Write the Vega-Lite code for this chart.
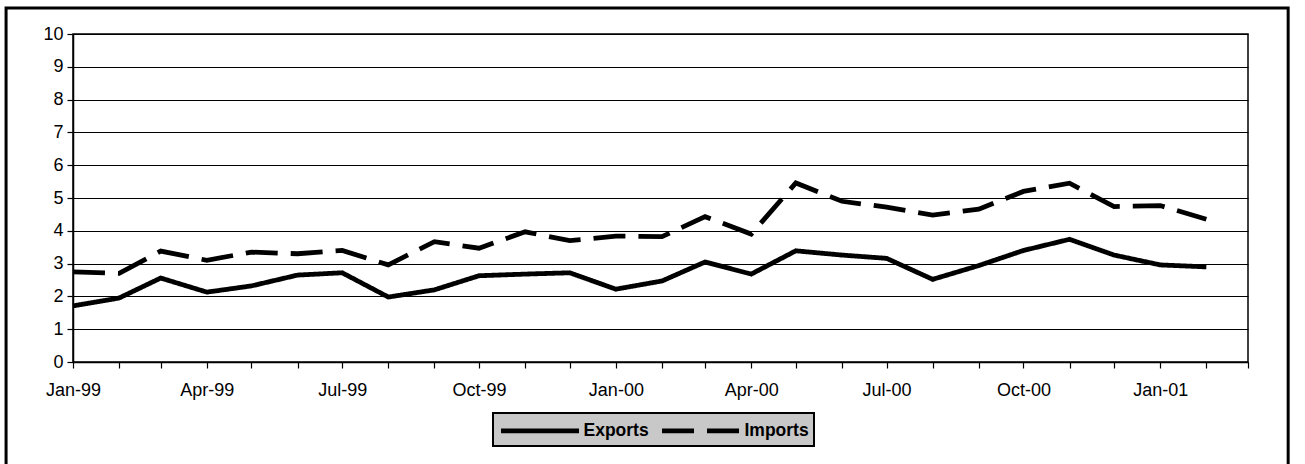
{
  "$schema": "https://vega.github.io/schema/vega-lite/v6.json",
  "width": 1175,
  "height": 328,
  "autosize": {"type": "none"},
  "padding": {"left": 73, "top": 34, "right": 57, "bottom": 102},
  "background": "white",
  "config": {
    "font": "Liberation Sans",
    "view": {"stroke": "black", "strokeWidth": 1.5},
    "axis": {"labelColor": "black", "labelFontSize": 18, "domainColor": "black", "tickColor": "black", "domainWidth": 1.5, "tickWidth": 1.2}
  },
  "resolve": {"axis": {"x": "independent", "y": "independent"}},
  "layer": [
    {
      "data": {"values": [
        {"date": "1999-01-01", "series": "Exports", "value": 1.71},
        {"date": "1999-02-01", "series": "Exports", "value": 1.95},
        {"date": "1999-03-01", "series": "Exports", "value": 2.56},
        {"date": "1999-04-01", "series": "Exports", "value": 2.13},
        {"date": "1999-05-01", "series": "Exports", "value": 2.32},
        {"date": "1999-06-01", "series": "Exports", "value": 2.65},
        {"date": "1999-07-01", "series": "Exports", "value": 2.72},
        {"date": "1999-08-01", "series": "Exports", "value": 1.98},
        {"date": "1999-09-01", "series": "Exports", "value": 2.2},
        {"date": "1999-10-01", "series": "Exports", "value": 2.63},
        {"date": "1999-11-01", "series": "Exports", "value": 2.68},
        {"date": "1999-12-01", "series": "Exports", "value": 2.72},
        {"date": "2000-01-01", "series": "Exports", "value": 2.22},
        {"date": "2000-02-01", "series": "Exports", "value": 2.47},
        {"date": "2000-03-01", "series": "Exports", "value": 3.05},
        {"date": "2000-04-01", "series": "Exports", "value": 2.68},
        {"date": "2000-05-01", "series": "Exports", "value": 3.39},
        {"date": "2000-06-01", "series": "Exports", "value": 3.26},
        {"date": "2000-07-01", "series": "Exports", "value": 3.16},
        {"date": "2000-08-01", "series": "Exports", "value": 2.52},
        {"date": "2000-09-01", "series": "Exports", "value": 2.94},
        {"date": "2000-10-01", "series": "Exports", "value": 3.4},
        {"date": "2000-11-01", "series": "Exports", "value": 3.74},
        {"date": "2000-12-01", "series": "Exports", "value": 3.26},
        {"date": "2001-01-01", "series": "Exports", "value": 2.96},
        {"date": "2001-02-01", "series": "Exports", "value": 2.9},
        {"date": "1999-01-01", "series": "Imports", "value": 2.75},
        {"date": "1999-02-01", "series": "Imports", "value": 2.7},
        {"date": "1999-03-01", "series": "Imports", "value": 3.38},
        {"date": "1999-04-01", "series": "Imports", "value": 3.1},
        {"date": "1999-05-01", "series": "Imports", "value": 3.35},
        {"date": "1999-06-01", "series": "Imports", "value": 3.3},
        {"date": "1999-07-01", "series": "Imports", "value": 3.4},
        {"date": "1999-08-01", "series": "Imports", "value": 2.96},
        {"date": "1999-09-01", "series": "Imports", "value": 3.67},
        {"date": "1999-10-01", "series": "Imports", "value": 3.47},
        {"date": "1999-11-01", "series": "Imports", "value": 3.97},
        {"date": "1999-12-01", "series": "Imports", "value": 3.7},
        {"date": "2000-01-01", "series": "Imports", "value": 3.84},
        {"date": "2000-02-01", "series": "Imports", "value": 3.82},
        {"date": "2000-03-01", "series": "Imports", "value": 4.43},
        {"date": "2000-04-01", "series": "Imports", "value": 3.9},
        {"date": "2000-05-01", "series": "Imports", "value": 5.46},
        {"date": "2000-06-01", "series": "Imports", "value": 4.9},
        {"date": "2000-07-01", "series": "Imports", "value": 4.72},
        {"date": "2000-08-01", "series": "Imports", "value": 4.48},
        {"date": "2000-09-01", "series": "Imports", "value": 4.66},
        {"date": "2000-10-01", "series": "Imports", "value": 5.2},
        {"date": "2000-11-01", "series": "Imports", "value": 5.45},
        {"date": "2000-12-01", "series": "Imports", "value": 4.74},
        {"date": "2001-01-01", "series": "Imports", "value": 4.77},
        {"date": "2001-02-01", "series": "Imports", "value": 4.35}
      ]},
      "mark": {"type": "line", "color": "black", "strokeWidth": 4.8},
      "encoding": {
        "x": {
          "field": "date", "type": "temporal",
          "scale": {"type": "utc", "domain": [{"year": 1999, "month": 1, "date": 1, "utc": true}, {"year": 2001, "month": 3, "date": 1, "utc": true}], "nice": false},
          "axis": {
            "title": null, "grid": false, "tickSize": 6, "labelPadding": 13,
            "tickCount": {"interval": "month", "step": 1},
            "labelExpr": "utcmonth(datum.value) % 3 == 0 ? utcFormat(datum.value, '%b-%y') : ''",
            "labelOverlap": false, "labelFlush": false, "labelBound": false
          }
        },
        "y": {
          "field": "value", "type": "quantitative",
          "scale": {"domain": [0, 10], "nice": false, "zero": true},
          "axis": {"title": null, "values": [0,1,2,3,4,5,6,7,8,9,10], "labelOverlap": false, "grid": true, "gridColor": "black", "gridWidth": 1, "gridOpacity": 1, "tickSize": 6, "labelPadding": 4}
        },
        "strokeDash": {
          "field": "series", "type": "nominal",
          "scale": {"domain": ["Exports", "Imports"], "range": [[1, 0], [32, 13]]},
          "legend": {
            "title": null, "orient": "none", "legendX": 420, "legendY": 379, "direction": "horizontal",
            "symbolType": "M-4,0H4", "symbolSize": 380, "symbolStrokeWidth": 4.8, "symbolStrokeColor": "black",
            "symbolOffset": 29.5, "labelOffset": 31,
            "labelFontSize": 17.5, "labelFontWeight": "bold", "labelColor": "black",
            "columnPadding": 3, "padding": 5,
            "fillColor": "#c8c8c8", "strokeColor": "black",
            "encode": {"legend": {"update": {"strokeWidth": {"value": 2}}}}
          }
        }
      }
    },
    {
      "data": {"values": [{}]},
      "mark": {"type": "rect", "fill": null, "stroke": "black", "strokeWidth": 3, "clip": false},
      "encoding": {
        "x": {"datum": {"year": 1998, "month": 11, "date": 17, "utc": true}, "type": "temporal", "axis": null},
        "x2": {"datum": {"year": 2001, "month": 3, "date": 28, "utc": true}},
        "y": {"datum": 10.79, "type": "quantitative", "axis": null},
        "y2": {"datum": -4}
      }
    }
  ]
}
